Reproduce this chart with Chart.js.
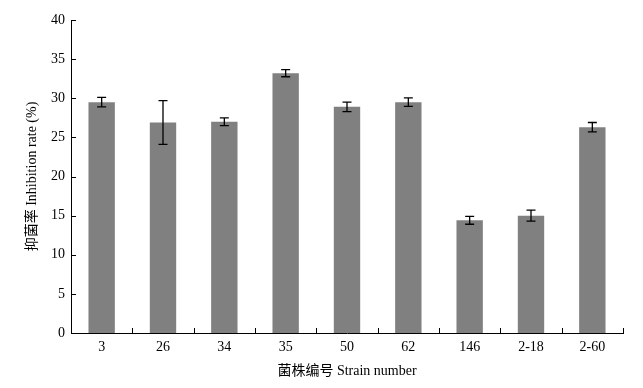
<!DOCTYPE html>
<html>
<head>
<meta charset="utf-8">
<script src="https://cdn.jsdelivr.net/npm/chart.js@4/dist/chart.umd.min.js"></script>
<style>
  html, body { margin: 0; padding: 0; background: #fff; }
  #wrap { width: 643px; height: 388px; }
</style>
</head>
<body>
<div id="wrap"><canvas id="chart" width="643" height="388"></canvas></div>
<script>
const strains = ['3', '26', '34', '35', '50', '62', '146', '2-18', '2-60'];
const inhibition = [29.5, 26.9, 27.0, 33.2, 28.9, 29.5, 14.4, 15.0, 26.3];
const errors = [0.6, 2.8, 0.5, 0.45, 0.6, 0.55, 0.5, 0.7, 0.6];
const yTicks = [0, 5, 10, 15, 20, 25, 30, 35, 40];

const FONT = '"Liberation Serif", "Times New Roman", "Noto Sans CJK SC", serif';

// error bars + inward tick marks, drawn from the scales
const errorBars = {
  id: 'errorBars',
  afterDatasetsDraw(chart) {
    const { ctx, scales: { x, y } } = chart;
    const meta = chart.getDatasetMeta(0);
    ctx.save();
    ctx.strokeStyle = '#000';
    ctx.lineWidth = 1.3;
    meta.data.forEach((bar, i) => {
      const top = y.getPixelForValue(inhibition[i] + errors[i]);
      const bot = y.getPixelForValue(inhibition[i] - errors[i]);
      const cap = 4.5;
      ctx.beginPath();
      ctx.moveTo(bar.x, top); ctx.lineTo(bar.x, bot);
      ctx.moveTo(bar.x - cap, top); ctx.lineTo(bar.x + cap, top);
      ctx.moveTo(bar.x - cap, bot); ctx.lineTo(bar.x + cap, bot);
      ctx.stroke();
    });

    ctx.lineWidth = 1;
    ctx.beginPath();
    const step = (x.right - x.left) / strains.length;
    for (let i = 1; i <= strains.length; i++) {
      const px = Math.round(x.left + i * step) + 0.5;
      ctx.moveTo(px, y.bottom); ctx.lineTo(px, y.bottom - 5);
    }
    yTicks.forEach((v) => {
      if (v === 0) return;
      const py = Math.round(y.getPixelForValue(v)) + 0.5;
      ctx.moveTo(x.left, py); ctx.lineTo(x.left + 5, py);
    });
    ctx.stroke();
    ctx.restore();
  },
};

new Chart(document.getElementById('chart'), {
  type: 'bar',
  data: {
    labels: strains,
    datasets: [{
      data: inhibition,
      backgroundColor: '#808080',
      borderWidth: 0,
      barPercentage: 0.43,
      categoryPercentage: 1,
    }],
  },
  options: {
    responsive: false,
    animation: false,
    events: [],
    layout: { padding: { left: 0, right: 20, top: 20, bottom: 0 } },
    plugins: { legend: { display: false }, tooltip: { enabled: false } },
    scales: {
      x: {
        grid: { display: false, drawTicks: false, tickLength: 0 },
        border: { display: true, color: '#000', width: 1 },
        ticks: { color: '#000', font: { family: FONT, size: 14 }, padding: 6, maxRotation: 0 },
        title: {
          display: true,
          text: '菌株编号 Strain number',
          color: '#000',
          font: { family: FONT, size: 14 },
          padding: { top: 0, bottom: 8 },
        },
        afterFit: (s) => { s.height = 55; },
      },
      y: {
        min: 0,
        max: 40,
        afterBuildTicks: (s) => { s.ticks = yTicks.map((v) => ({ value: v })); },
        grid: { display: false, drawTicks: false, tickLength: 0 },
        border: { display: true, color: '#000', width: 1 },
        ticks: { color: '#000', font: { family: FONT, size: 14 }, padding: 6 },
        title: {
          display: true,
          text: '抑菌率 Inhibition rate (%)',
          color: '#000',
          font: { family: FONT, size: 14 },
          padding: { top: 24, bottom: 0 },
        },
        afterFit: (s) => { s.width = 71; },
      },
    },
  },
  plugins: [errorBars],
});
</script>
</body>
</html>
